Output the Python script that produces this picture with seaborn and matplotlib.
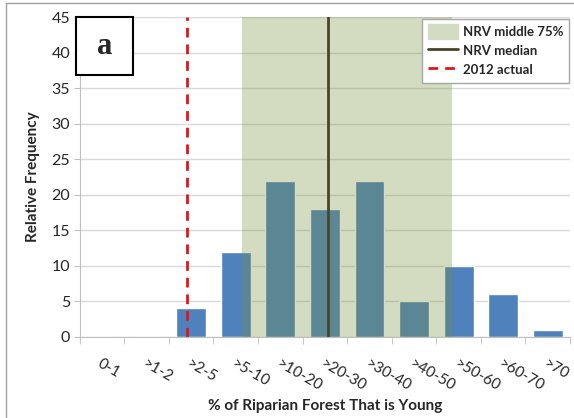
import matplotlib
matplotlib.use("Agg")
import matplotlib.pyplot as plt
import seaborn as sns
import pandas as pd
from matplotlib.patches import Patch, Rectangle
from matplotlib.lines import Line2D

# data
bins = ['0-1', '>1-2', '>2-5', '>5-10', '>10-20', '>20-30', '>30-40',
        '>40-50', '>50-60', '>60-70', '>70']
freq = [0, 0, 4, 12, 22, 18, 22, 5, 10, 6, 1]
nrv_low, nrv_high = 3.13, 7.86   # NRV middle 75% (category units)
nrv_median = 5.06
actual_2012 = 1.90

df = pd.DataFrame({'bin': bins, 'freq': freq})

sns.set_style('white')
plt.rcParams['font.family'] = ['Lato', 'DejaVu Sans']

fig = plt.figure(figsize=(5.74, 4.18), dpi=100)
ax = fig.add_axes([0.139, 0.194, 0.854, 0.765])

ax.yaxis.grid(True, color='#D9D9D9', lw=1)
ax.set_axisbelow(True)

sns.barplot(data=df, x='bin', y='freq', color='#4F81BD', saturation=1,
            width=0.67, ax=ax, zorder=2)

ax.axvspan(nrv_low, nrv_high, color='#76923C', alpha=0.32, lw=0, zorder=3)
ax.axvline(nrv_median, color='#4A452A', lw=2, zorder=4)
ax.axvline(actual_2012, color='#E0151B', lw=2, ls=(0, (3.5, 2.5)), zorder=5)

ax.set_xlim(-0.5, len(bins) - 0.5)
ax.set_ylim(0, 45)
ax.set_yticks(range(0, 50, 5))
ax.tick_params(axis='y', labelsize=11.5, length=4, color='#BFBFBF', pad=3,
               left=True)

ax.set_xticks(range(len(bins)))
ax.set_xticklabels(bins, rotation=-30, ha='left', rotation_mode='anchor',
                   fontsize=11)
ax.tick_params(axis='x', which='major', length=0, pad=14)
ax.set_xticks([i - 0.5 for i in range(len(bins) + 1)], minor=True)
ax.tick_params(axis='x', which='minor', length=5, color='#BFBFBF',
               bottom=True)

for side in ['top', 'right']:
    ax.spines[side].set_visible(False)
for side in ['left', 'bottom']:
    ax.spines[side].set_color('#BFBFBF')

ax.set_xlabel('% of Riparian Forest That is Young', fontsize=11,
              fontweight='bold', labelpad=4)
ax.set_ylabel('Relative Frequency', fontsize=11, fontweight='bold',
              labelpad=8)

handles = [Patch(facecolor='#D3DCC3', edgecolor='#D3DCC3'),
           Line2D([], [], color='#4A452A', lw=2),
           Line2D([], [], color='#E0151B', lw=2, ls=(0, (3.5, 2.5)))]
ax.legend(handles, ['NRV middle 75%', 'NRV median', '2012 actual'],
          loc='upper right', bbox_to_anchor=(0.998, 0.995), borderaxespad=0,
          fancybox=False, edgecolor='#A6A6A6', framealpha=1,
          prop={'weight': 'bold', 'size': 9.5}, handlelength=2.3,
          handleheight=1.4, labelspacing=0.3, handletextpad=0.4,
          borderpad=0.4)

# panel label box
fig.patches.append(Rectangle((76 / 574, 1 - 75 / 418), 57 / 574, 58 / 418,
                             transform=fig.transFigure, fill=True,
                             facecolor='white', edgecolor='black', lw=1.5,
                             zorder=10))
fig.text(104.5 / 574, 1 - 47 / 418, 'a', fontsize=22, fontweight='bold',
         family=['Liberation Serif', 'DejaVu Serif'], ha='center',
         va='center', zorder=11)

# outer frame
fig.add_artist(Line2D([6 / 574, 1], [1 - 3 / 418, 1 - 3 / 418],
                      transform=fig.transFigure, color='#A0A0A0', lw=1))
fig.add_artist(Line2D([6 / 574, 6 / 574], [0, 1 - 3 / 418],
                      transform=fig.transFigure, color='#A0A0A0', lw=1))

fig.savefig('out.png', dpi=100)
